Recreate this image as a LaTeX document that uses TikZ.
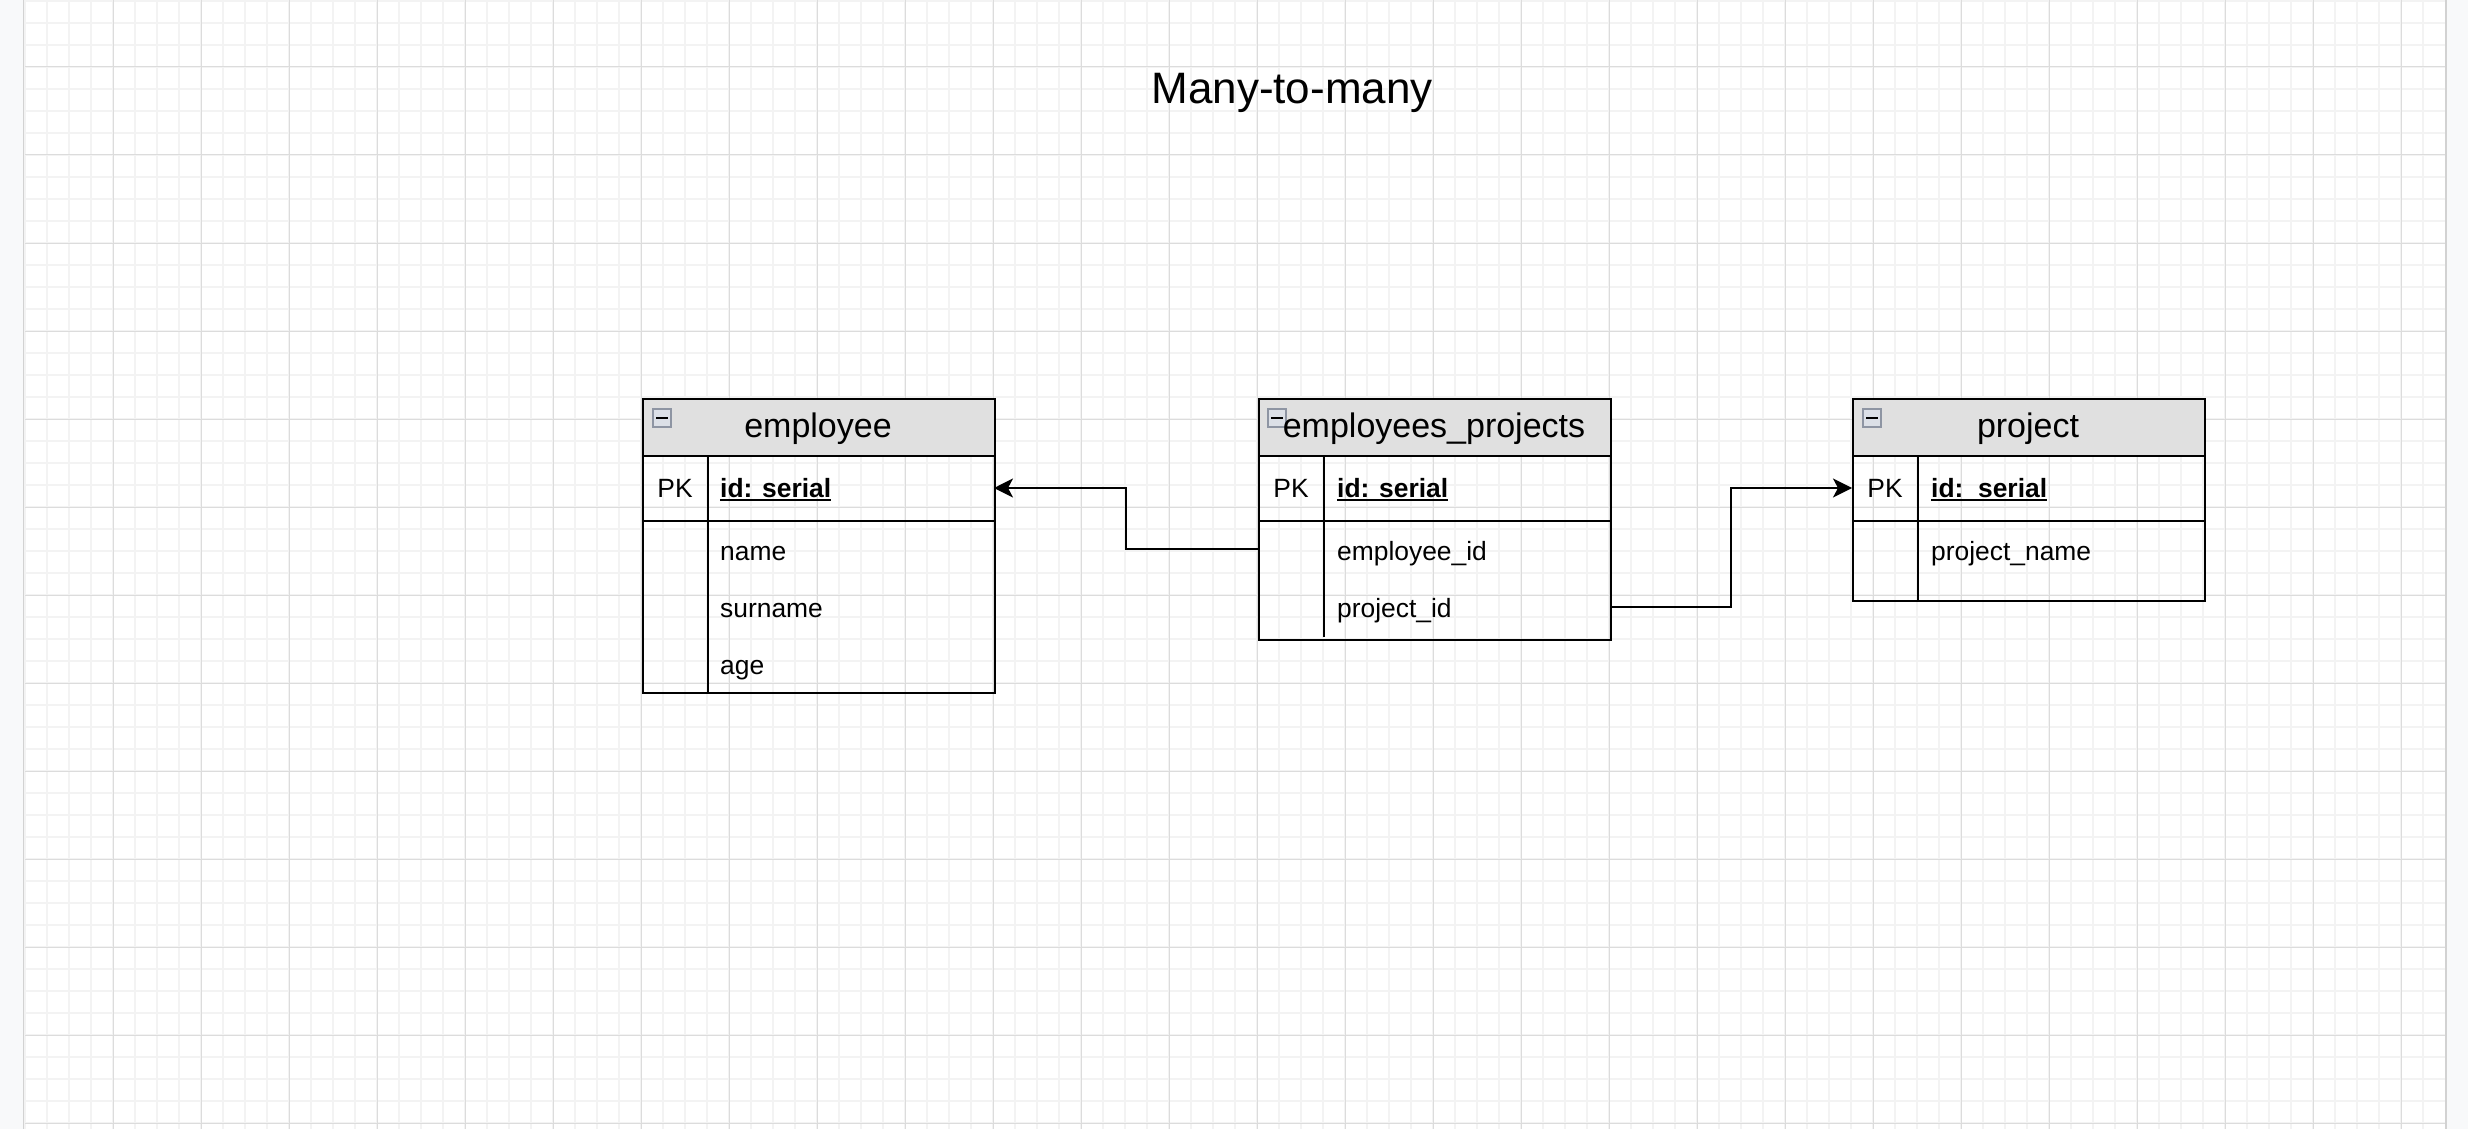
\documentclass[tikz,border=0pt]{standalone}
\usepackage{fontspec}
\setmainfont{Liberation Sans}
\usetikzlibrary{arrows.meta}
\definecolor{gridminor}{HTML}{F3F3F3}
\definecolor{gridmajor}{HTML}{DCDCDC}
\definecolor{hdrgray}{HTML}{E0E0E0}
\definecolor{pagegray}{HTML}{F8F9FA}
\definecolor{iconedge}{HTML}{8E95A3}
\definecolor{iconfill}{HTML}{DCE0E7}
\newcommand\keyul[1]{\setbox0\hbox{#1}\rlap{\rule[-3.5pt]{\wd0}{1.8pt}}\box0}
\tikzset{
  tbl/.style={draw=black,line width=2.2pt,anchor=north west,inner sep=0pt},
  hdr/.style={tbl,fill=hdrgray},
  hdrtext/.style={font=\fontsize{34}{40}\selectfont,anchor=base,inner sep=0pt},
  field/.style={font=\fontsize{26.4}{30}\selectfont,anchor=base west,inner sep=0pt},
  keyfield/.style={field,font=\fontsize{26.4}{30}\selectfont\bfseries},
  pkmark/.style={font=\fontsize{26.4}{30}\selectfont,anchor=base,inner sep=0pt},
  rule/.style={line width=2.2pt},
  fk/.style={line width=2.2pt,-{Stealth[length=19pt,width=19pt,inset=5pt]}},
  icon/.style={draw=iconedge,fill=iconfill,line width=1.5pt,minimum size=18pt,inner sep=0pt},
}
\begin{document}
\begin{tikzpicture}[x=1pt,y=-1pt]
  \path[use as bounding box] (0,0) rectangle (2468,1129);
  % page and grid
  \fill[pagegray] (0,0) rectangle (2468,1129);
  \fill[white] (25,0) rectangle (2445,1129);
  \draw[gray!35,line width=1.5pt] (24,0) -- (24,1129) (2446,0) -- (2446,1129);
  \foreach \gx in {1,...,110}
    \draw[gridminor,line width=2pt] ({3+22*\gx},0) -- ({3+22*\gx},1129);
  \foreach \gy in {0,...,51}
    \draw[gridminor,line width=2pt] (25,{1+22*\gy}) -- (2445,{1+22*\gy});
  \foreach \gx in {0,...,26}
    \draw[gridmajor,line width=1pt] ({113+88*\gx},0) -- ({113+88*\gx},1129);
  \foreach \gy in {0,...,12}
    \draw[gridmajor,line width=1pt] (25,{67+88*\gy}) -- (2445,{67+88*\gy});

  \node[font=\fontsize{44}{50}\selectfont,anchor=base,inner sep=0pt] (title) at (1292,104) {Many-to-many};

  % employee
  \node[tbl,minimum width=352pt,minimum height=294pt] (employee) at (642,398) {};
  \node[hdr,minimum width=352pt,minimum height=57pt] (emp-hdr) at (642,398) {};
  \draw[rule] (642,521) -- (994,521) (708,455) -- (708,692);
  \node[icon] (emp-icon) at (662,418) {};
  \draw[line width=2.4pt] (656,418) -- (668,418);
  \node[hdrtext] (emp-title) at (818,437) {employee};
  \node[pkmark] (emp-pk) at (675,497) {PK};
  \node[keyfield] (emp-id) at (720,497) {\keyul{id: serial}};
  \node[field] (emp-name) at (720,560) {name};
  \node[field] (emp-surname) at (720,617) {surname};
  \node[field] (emp-age) at (720,674) {age};

  % employees_projects
  \node[tbl,minimum width=352pt,minimum height=241pt] (empproj) at (1258,398) {};
  \node[hdr,minimum width=352pt,minimum height=57pt] (ep-hdr) at (1258,398) {};
  \draw[rule] (1258,521) -- (1610,521) (1324,455) -- (1324,637);
  \node[icon] (ep-icon) at (1277,418) {};
  \draw[line width=2.4pt] (1271,418) -- (1283,418);
  \node[hdrtext] (ep-title) at (1434,437) {employees\_projects};
  \node[pkmark] (ep-pk) at (1291,497) {PK};
  \node[keyfield] (ep-id) at (1337,497) {\keyul{id: serial}};
  \node[field] (ep-empid) at (1337,560) {employee\_id};
  \node[field] (ep-projid) at (1337,617) {project\_id};

  % project
  \node[tbl,minimum width=352pt,minimum height=202pt] (project) at (1852,398) {};
  \node[hdr,minimum width=352pt,minimum height=57pt] (proj-hdr) at (1852,398) {};
  \draw[rule] (1852,521) -- (2204,521) (1918,455) -- (1918,600);
  \node[icon] (proj-icon) at (1872,418) {};
  \draw[line width=2.4pt] (1866,418) -- (1878,418);
  \node[hdrtext] (proj-title) at (2028,437) {project};
  \node[pkmark] (proj-pk) at (1885,497) {PK};
  \node[keyfield] (proj-id) at (1931,497) {\keyul{id:\ \ serial}};
  \node[field] (proj-name) at (1931,560) {project\_name};

  % relations
  \coordinate (emp-in) at (994,488);
  \coordinate (ep-emp-out) at (1258,549);
  \coordinate (ep-proj-out) at (1610,607);
  \coordinate (proj-in) at (1852,488);
  \draw[fk] (ep-emp-out) -- ++(-132,0) |- (emp-in);
  \draw[fk] (ep-proj-out) -- ++(121,0) |- (proj-in);
\end{tikzpicture}
\end{document}
